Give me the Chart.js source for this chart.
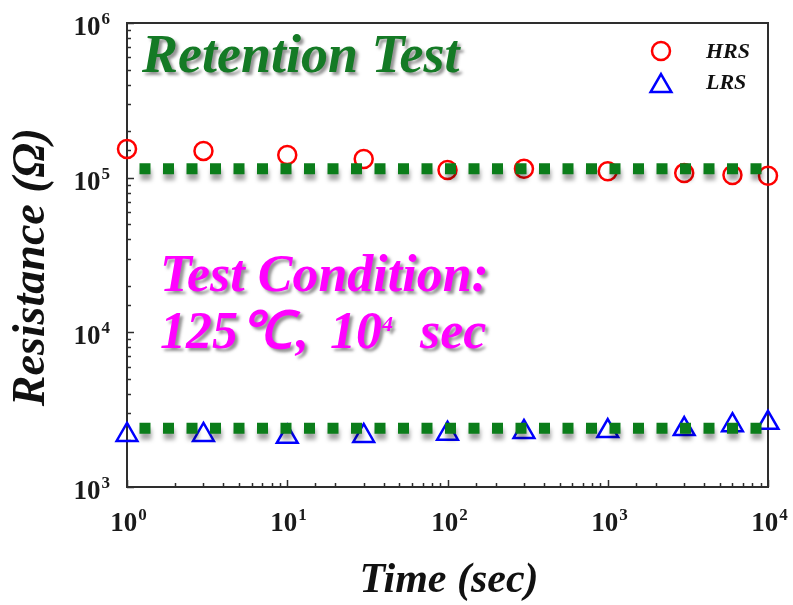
<!DOCTYPE html>
<html>
<head>
<meta charset="utf-8">
<script src="https://cdn.jsdelivr.net/npm/chart.js@4.4.0/dist/chart.umd.min.js"></script>
<style>
html, body { margin: 0; padding: 0; background: #fff; }
#contenedor { width: 793px; height: 605px; }
</style>
</head>
<body>
<div id="contenedor"><canvas id="grafico"></canvas></div>
<script>
// datos
var tiempos = [1, 3, 10, 30, 100, 300, 1000, 3000, 6000, 10000];
var hrs = [1.53e5, 1.49e5, 1.40e5, 1.32e5, 1.12e5, 1.14e5, 1.10e5, 1.07e5, 1.04e5, 1.03e5];
var lrs = [2170, 2170, 2110, 2140, 2210, 2270, 2300, 2370, 2510, 2600];
var ajusteX = [1, 10000];
var ajusteHrs = [1.14e5, 1.14e5];
var ajusteLrs = [2400, 2400];

var serif = '"Liberation Serif", "Times New Roman", serif';
var verde = '#0b7d1a';

function puntos(xs, ys) {
    return xs.map(function (x, i) { return { x: x, y: ys[i] }; });
}

function esPotencia(v) {
    var e = Math.log10(v);
    return Math.abs(e - Math.round(e)) < 1e-9;
}

// dibuja "10" con el exponente elevado; alinea segun 'centro' o 'derecha'
function potencia(ctx, exp, x, y, alinear) {
    ctx.font = 'bold 27px ' + serif;
    var wBase = ctx.measureText('10').width;
    ctx.font = 'bold 17px ' + serif;
    var wExp = ctx.measureText(String(exp)).width;
    var total = wBase + wExp + 1;
    var x0 = alinear === 'derecha' ? x - total : x - total / 2;
    ctx.textAlign = 'left';
    ctx.textBaseline = 'alphabetic';
    ctx.font = 'bold 27px ' + serif;
    ctx.fillText('10', x0, y + 9);
    ctx.font = 'bold 17px ' + serif;
    ctx.fillText(String(exp), x0 + wBase + 1, y - 2);
}

// marco, marcas hacia adentro y etiquetas de los ejes
var marcoPlugin = {
    id: 'marco',
    beforeDatasetsDraw: function (chart) {
        var ctx = chart.ctx;
        var a = chart.chartArea;
        var sx = chart.scales.x, sy = chart.scales.y;
        ctx.save();
        ctx.strokeStyle = '#2e2e2e';
        ctx.fillStyle = '#1a1a1a';
        ctx.lineWidth = 1.5;
        sx.ticks.forEach(function (t) {
            var px = Math.round(sx.getPixelForValue(t.value)) + 0.5;
            var len = esPotencia(t.value) ? 7 : 4;
            ctx.beginPath();
            ctx.moveTo(px, a.bottom);
            ctx.lineTo(px, a.bottom - len);
            ctx.stroke();
            if (esPotencia(t.value)) potencia(ctx, Math.round(Math.log10(t.value)), px + 1, a.bottom + 35, 'centro');
        });
        sy.ticks.forEach(function (t) {
            var py = Math.round(sy.getPixelForValue(t.value)) + 0.5;
            var len = esPotencia(t.value) ? 7 : 4;
            ctx.beginPath();
            ctx.moveTo(a.left, py);
            ctx.lineTo(a.left + len, py);
            ctx.stroke();
            if (esPotencia(t.value)) potencia(ctx, Math.round(Math.log10(t.value)), a.left - 17, py + 2, 'derecha');
        });
        ctx.lineWidth = 2;
        ctx.strokeRect(a.left, a.top, a.right - a.left, a.bottom - a.top);
        ctx.restore();
    }
};

// sombra para las lineas punteadas verdes
var sombraPlugin = {
    id: 'sombra',
    beforeDatasetDraw: function (chart, args) {
        var ctx = chart.ctx;
        ctx.save();
        if (chart.data.datasets[args.index].showLine) {
            ctx.shadowColor = 'rgba(0,0,0,0.35)';
            ctx.shadowOffsetY = 6;
            ctx.shadowOffsetX = 1;
            ctx.shadowBlur = 4;
        }
    },
    afterDatasetDraw: function (chart) {
        chart.ctx.restore();
    }
};

// textos, leyenda y titulos de ejes
var textosPlugin = {
    id: 'textos',
    afterDraw: function (chart) {
        var ctx = chart.ctx;
        ctx.save();
        ctx.textAlign = 'left';
        ctx.textBaseline = 'alphabetic';

        ctx.shadowColor = 'rgba(60,60,60,0.55)';
        ctx.shadowOffsetX = 3;
        ctx.shadowOffsetY = 3;
        ctx.shadowBlur = 3;
        ctx.fillStyle = '#147a25';
        ctx.font = 'italic bold 54px ' + serif;
        ctx.fillText('Retention Test', 142, 72);

        ctx.fillStyle = '#ff00ff';
        ctx.font = 'italic bold 52px ' + serif;
        ctx.fillText('Test Condition:', 160, 291);

        var x = 160, yb = 348;
        ctx.font = 'italic bold 52px ' + serif;
        ctx.fillText('125', x, yb);
        x += ctx.measureText('125').width + 2;
        ctx.fillText('\u2103', x, yb);
        x += ctx.measureText('\u2103').width + 4;
        ctx.fillText(',', x, yb);
        x = 330;
        ctx.fillText('10', x, yb);
        x += ctx.measureText('10').width;
        ctx.font = 'italic bold 22px ' + serif;
        ctx.fillText('4', x, yb - 17);
        x = 420;
        ctx.font = 'italic bold 52px ' + serif;
        ctx.fillText('sec', x, yb);

        ctx.shadowColor = 'rgba(0,0,0,0)';
        // leyenda
        ctx.lineWidth = 2.5;
        ctx.strokeStyle = '#ff0000';
        ctx.beginPath();
        ctx.arc(661, 51, 9, 0, Math.PI * 2);
        ctx.stroke();
        ctx.strokeStyle = '#0000ff';
        ctx.beginPath();
        var r = 12, cx = 661, cy = 86;
        ctx.moveTo(cx, cy - r);
        ctx.lineTo(cx + r * Math.sqrt(3) / 2, cy + r / 2);
        ctx.lineTo(cx - r * Math.sqrt(3) / 2, cy + r / 2);
        ctx.closePath();
        ctx.stroke();
        ctx.fillStyle = '#111';
        ctx.font = 'italic bold 22px ' + serif;
        ctx.textBaseline = 'middle';
        ctx.fillText('HRS', 706, 52);
        ctx.fillText('LRS', 706, 83);

        // titulos de ejes
        ctx.textAlign = 'center';
        ctx.font = 'italic bold 42px ' + serif;
        ctx.fillText('Time (sec)', 449, 581);
        ctx.translate(32, 267);
        ctx.rotate(-Math.PI / 2);
        ctx.font = 'italic bold 46px ' + serif;
        ctx.fillText('Resistance (\u03A9)', 0, 0);
        ctx.restore();
    }
};

var ctx = document.getElementById('grafico');
new Chart(ctx, {
    type: 'scatter',
    data: {
        datasets: [{
            label: 'HRS fit',
            type: 'line',
            data: puntos(ajusteX, ajusteHrs),
            showLine: true,
            borderColor: verde,
            borderWidth: 11,
            borderDash: [11, 12.5],
            borderDashOffset: 11,
            borderCapStyle: 'butt',
            pointRadius: 0,
            fill: false,
            order: 0,
        }, {
            label: 'LRS fit',
            type: 'line',
            data: puntos(ajusteX, ajusteLrs),
            showLine: true,
            borderColor: verde,
            borderWidth: 11,
            borderDash: [11, 12.5],
            borderDashOffset: 11,
            borderCapStyle: 'butt',
            pointRadius: 0,
            fill: false,
            order: 0,
        }, {
            label: 'HRS',
            data: puntos(tiempos, hrs),
            pointStyle: 'circle',
            pointRadius: 9,
            pointBorderWidth: 2.5,
            borderColor: '#ff0000',
            backgroundColor: 'rgba(0,0,0,0)',
            clip: false,
            order: 1,
        }, {
            label: 'LRS',
            data: puntos(tiempos, lrs),
            pointStyle: 'triangle',
            pointRadius: 12,
            pointBorderWidth: 2.5,
            borderColor: '#0000ff',
            backgroundColor: 'rgba(0,0,0,0)',
            clip: false,
            order: 1,
        }],
    },
    options: {
        responsive: true,
        maintainAspectRatio: false,
        animation: false,
        layout: {
            autoPadding: false,
            padding: { left: 0, right: 25, top: 23, bottom: 0 },
        },
        plugins: {
            legend: { display: false },
            tooltip: { enabled: false },
        },
        scales: {
            x: {
                type: 'logarithmic',
                min: 1,
                max: 10000,
                grid: { display: false },
                border: { display: false },
                afterFit: function (scale) { scale.height = 118; },
                ticks: { display: false, autoSkip: false },
            },
            y: {
                type: 'logarithmic',
                min: 1000,
                max: 1000000,
                grid: { display: false },
                border: { display: false },
                afterFit: function (scale) { scale.width = 127; },
                ticks: { display: false, autoSkip: false },
            },
        },
    },
    plugins: [marcoPlugin, sombraPlugin, textosPlugin],
});
</script>
</body>
</html>
